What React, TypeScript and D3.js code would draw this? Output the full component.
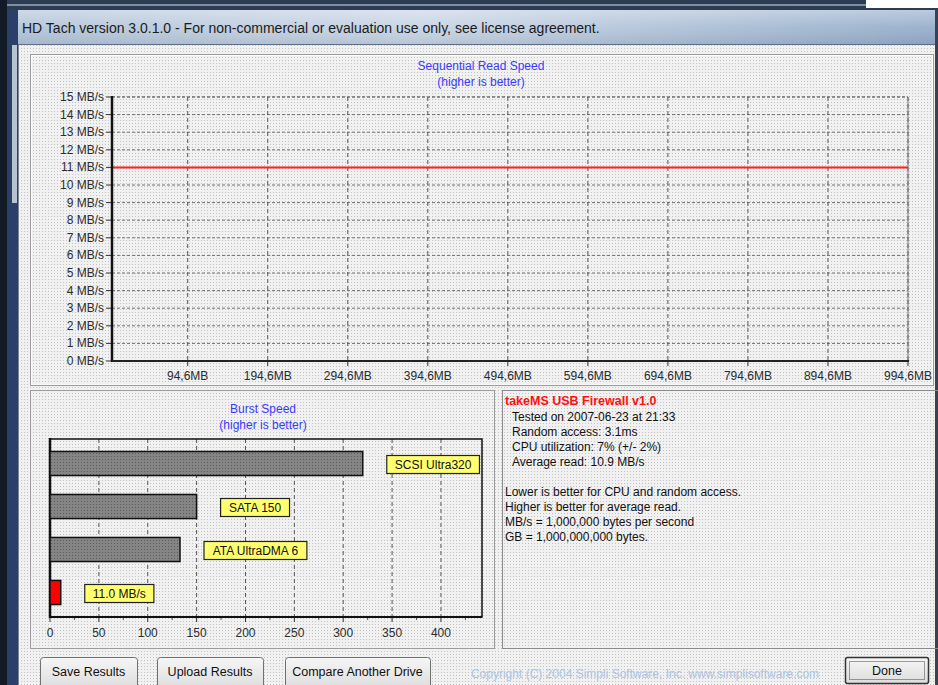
import * as d3 from 'd3';

// ---- data ----
const READ_POSITIONS_MB = [0, 94.6, 194.6, 294.6, 394.6, 494.6, 594.6, 694.6, 794.6, 894.6, 994.6];
const READ_SPEEDS = [11.0, 11.0, 11.0, 11.0, 11.0, 11.0, 11.0, 11.0, 11.0, 11.0, 11.0];
const Y_TICKS = [0, 1, 2, 3, 4, 5, 6, 7, 8, 9, 10, 11, 12, 13, 14, 15];
const X_TICKS_MB = [94.6, 194.6, 294.6, 394.6, 494.6, 594.6, 694.6, 794.6, 894.6, 994.6];

const BURST_LABELS = ['SCSI Ultra320', 'SATA 150', 'ATA UltraDMA 6', '11.0 MB/s'];
const BURST_VALUES = [320, 150, 133, 11];
const BURST_TICKS = [0, 50, 100, 150, 200, 250, 300, 350, 400];
const BURST_MINOR = [25, 75, 125, 175, 225, 275, 325, 375, 425];

const DRIVE_NAME = 'takeMS USB Firewall v1.0';
const DRIVE_STATS = [
  'Tested on 2007-06-23 at 21:33',
  'Random access: 3.1ms',
  'CPU utilization: 7% (+/- 2%)',
  'Average read: 10.9 MB/s',
];
const NOTES = [
  'Lower is better for CPU and random access.',
  'Higher is better for average read.',
  'MB/s = 1,000,000 bytes per second',
  'GB = 1,000,000,000 bytes.',
];
const BUTTONS = [
  { label: 'Save Results', x0: 40, x1: 137 },
  { label: 'Upload Results', x0: 157, x1: 263 },
  { label: 'Compare Another Drive', x0: 285, x1: 430 },
];

const FONT = 'Liberation Sans, Arial, sans-serif';
const W = 938;
const H = 685;

const measure = (() => {
  const ctx = document.createElement('canvas').getContext('2d');
  return (txt: string, font: string) => {
    if (!ctx) return txt.length * 6.5;
    ctx.font = font;
    return ctx.measureText(txt).width;
  };
})();

const fmtMB = (v: number) => v.toFixed(1).replace('.', ',') + 'MB';

export default function App() {
  // sequential read chart
  const x = d3.scaleLinear().domain([0, 994.6]).range([112, 908]);
  const y = d3.scaleLinear().domain([0, 15]).range([361, 97]);
  const readLine = d3
    .line<number>()
    .x((_, i) => x(READ_POSITIONS_MB[i]))
    .y((d) => y(d));

  // burst chart
  const bx = d3.scaleLinear().domain([0, 442]).range([50, 482]);
  const by = d3.scaleBand<string>().domain(BURST_LABELS).range([439, 617]).paddingInner(0.44).paddingOuter(0.29);

  return (
    <svg width={W} height={H} style={{ position: 'absolute', left: 0, top: 0, display: 'block' }} fontFamily={FONT}>
      <defs>
        <pattern id="dither" width={3} height={3} patternUnits="userSpaceOnUse">
          <rect width={3} height={3} fill="#f1f1f1" />
          <rect width={1} height={1} fill="#c2c2c2" />
        </pattern>
        <pattern id="barDots" width={3} height={3} patternUnits="userSpaceOnUse">
          <rect width={3} height={3} fill="#858585" />
          <rect width={1} height={1} fill="#5a5a5a" />
        </pattern>
        <linearGradient id="titleGrad" x1="0" x2="1" y1="0" y2="0">
          <stop offset="0" stopColor="#b3c4d9" />
          <stop offset="0.45" stopColor="#c8d5e5" />
          <stop offset="1" stopColor="#96aecb" />
        </linearGradient>
        <linearGradient id="titleShade" x1="0" x2="0" y1="0" y2="1">
          <stop offset="0" stopColor="#ffffff" stopOpacity={0.35} />
          <stop offset="0.5" stopColor="#ffffff" stopOpacity={0.05} />
          <stop offset="1" stopColor="#000000" stopOpacity={0.08} />
        </linearGradient>
        <linearGradient id="btnGrad" x1="0" x2="0" y1="0" y2="1">
          <stop offset="0" stopColor="#f6f6f6" />
          <stop offset="1" stopColor="#dcdcdc" />
        </linearGradient>
      </defs>

      {/* window chrome */}
      <rect width={W} height={H} fill="url(#dither)" />
      <rect x={0} y={0} width={W} height={10} fill="#2e3c52" />
      <rect x={0} y={4} width={866} height={2} fill="#7d8ea8" />
      <rect x={866} y={0} width={W - 866} height={8} fill="#ffffff" />
      <rect x={0} y={10} width={W} height={35} fill="url(#titleGrad)" />
      <rect x={0} y={10} width={W} height={35} fill="url(#titleShade)" />
      <line x1={0} x2={W} y1={44.5} y2={44.5} stroke="#5c6e88" />
      <text x={22} y={33} fontSize={14} fill="#1b1b1b">
        HD Tach version 3.0.1.0  - For non-commercial or evaluation use only, see license agreement.
      </text>
      <rect x={0} y={0} width={7} height={H} fill="#121a26" />
      <rect x={7} y={10} width={11} height={H - 10} fill="#2a4068" />
      <rect x={12} y={45} width={5} height={158} fill="#b9c2cf" />
      <line x1={18.5} x2={18.5} y1={45} y2={H} stroke="#7a8596" />
      <rect x={935} y={10} width={3} height={H - 10} fill="#3a4252" />

      {/* group boxes */}
      <rect x={30.5} y={54.5} width={903} height={331} fill="none" stroke="#9b9b9b" />
      <rect x={31.5} y={55.5} width={901} height={329} fill="none" stroke="#ffffff" strokeOpacity={0.8} />
      <rect x={30.5} y={390.5} width={464} height={258} fill="none" stroke="#9b9b9b" />
      <rect x={502.5} y={390.5} width={440} height={258} fill="none" stroke="#8a8a8a" />

      {/* sequential read */}
      <text x={481} y={70} fontSize={12} fill="#3a3aff" textAnchor="middle">Sequential Read Speed</text>
      <text x={481} y={86} fontSize={12} fill="#3a3aff" textAnchor="middle">(higher is better)</text>

      {Y_TICKS.map((t) => (
        <g key={`y${t}`}>
          {t > 0 && (
            <line x1={x(0)} x2={x(994.6)} y1={y(t)} y2={y(t)} stroke={t === 15 ? '#333' : '#707070'} strokeDasharray="3,2" />
          )}
          <line x1={x(0) - 6} x2={x(0)} y1={y(t)} y2={y(t)} stroke="#333" />
          <text x={104} y={y(t) + 4} fontSize={12} fill="#2c2c2c" textAnchor="end">{`${t} MB/s`}</text>
        </g>
      ))}
      {X_TICKS_MB.map((t) => (
        <g key={`x${t}`}>
          <line x1={x(t)} x2={x(t)} y1={y(15)} y2={y(0)} stroke="#555" strokeDasharray="4,3" />
          <line x1={x(t)} x2={x(t)} y1={y(0)} y2={y(0) + 5} stroke="#333" />
          <text x={x(t)} y={380} fontSize={12} fill="#2c2c2c" textAnchor="middle">{fmtMB(t)}</text>
        </g>
      ))}
      <line x1={x(994.6)} x2={x(994.6)} y1={y(15)} y2={y(0)} stroke="#777" />
      <path d={readLine(READ_SPEEDS) ?? ''} fill="none" stroke="#ff2020" strokeWidth={2} />
      <line x1={x(0)} x2={x(0)} y1={y(15) - 1} y2={y(0) + 1} stroke="#111" strokeWidth={2.5} />
      <line x1={x(0)} x2={x(994.6) + 1} y1={y(0)} y2={y(0)} stroke="#222" strokeWidth={2} />

      {/* burst speed */}
      <text x={263} y={413} fontSize={12} fill="#3a3aff" textAnchor="middle">Burst Speed</text>
      <text x={263} y={429} fontSize={12} fill="#3a3aff" textAnchor="middle">(higher is better)</text>
      {BURST_TICKS.map((t) => (
        <g key={`b${t}`}>
          {t > 0 && <line x1={bx(t)} x2={bx(t)} y1={439} y2={617} stroke="#555" strokeDasharray="4,3" />}
          <line x1={bx(t)} x2={bx(t)} y1={617} y2={622} stroke="#333" />
          <text x={bx(t)} y={637} fontSize={12} fill="#2c2c2c" textAnchor="middle">{t}</text>
        </g>
      ))}
      {BURST_MINOR.map((t) => (
        <line key={`bm${t}`} x1={bx(t)} x2={bx(t)} y1={617} y2={620} stroke="#555" />
      ))}
      <rect x={50} y={439} width={bx(442) - 50} height={178} fill="none" stroke="#111" strokeWidth={1.5} />
      <line x1={50} x2={50} y1={438} y2={618} stroke="#111" strokeWidth={2.5} />
      <line x1={49} x2={bx(442)} y1={617} y2={617} stroke="#111" strokeWidth={2} />
      {BURST_LABELS.map((label, i) => {
        const v = BURST_VALUES[i];
        const y0 = by(label) ?? 0;
        const bh = by.bandwidth();
        const isTested = i === BURST_LABELS.length - 1;
        const tw = measure(label, `12px ${FONT}`);
        const boxW = tw + 16;
        const boxX = bx(v) + 24;
        const cy = y0 + bh / 2 + 1;
        return (
          <g key={label}>
            <rect
              x={50}
              y={y0}
              width={bx(v) - 50}
              height={bh}
              fill={isTested ? '#ff0000' : 'url(#barDots)'}
              stroke="#111"
              strokeWidth={1.5}
            />
            <rect x={boxX} y={cy - 9} width={boxW} height={18} fill="#ffff70" stroke="#222" strokeWidth={1.2} />
            <text x={boxX + boxW / 2} y={cy + 4.5} fontSize={12} fill="#111" textAnchor="middle">{label}</text>
          </g>
        );
      })}

      {/* drive info */}
      <text x={505} y={405} fontSize={12.5} fontWeight="bold" fill="#ff1010">{DRIVE_NAME}</text>
      {DRIVE_STATS.map((s, i) => (
        <text key={s} x={512} y={421 + i * 15} fontSize={12} fill="#111">{s}</text>
      ))}
      {NOTES.map((s, i) => (
        <text key={s} x={505} y={496 + i * 15} fontSize={12} fill="#111">{s}</text>
      ))}

      {/* buttons */}
      {BUTTONS.map((b) => (
        <g key={b.label}>
          <rect x={b.x0 + 0.5} y={657.5} width={b.x1 - b.x0} height={32} rx={3} fill="url(#btnGrad)" stroke="#707070" />
          <text x={(b.x0 + b.x1) / 2} y={676} fontSize={12.5} fill="#111" textAnchor="middle">{b.label}</text>
        </g>
      ))}
      <text x={645} y={678} fontSize={12} fill="#a9c3e6" textAnchor="middle">
        Copyright (C) 2004 Simpli Software, Inc. www.simplisoftware.com
      </text>
      <rect x={845.5} y={657.5} width={83} height={26} rx={2} fill="url(#btnGrad)" stroke="#333" strokeWidth={1.5} />
      <rect x={849.5} y={661.5} width={75} height={18} fill="none" stroke="#444" strokeDasharray="1,1" />
      <text x={887} y={675} fontSize={12.5} fill="#111" textAnchor="middle">Done</text>
    </svg>
  );
}
